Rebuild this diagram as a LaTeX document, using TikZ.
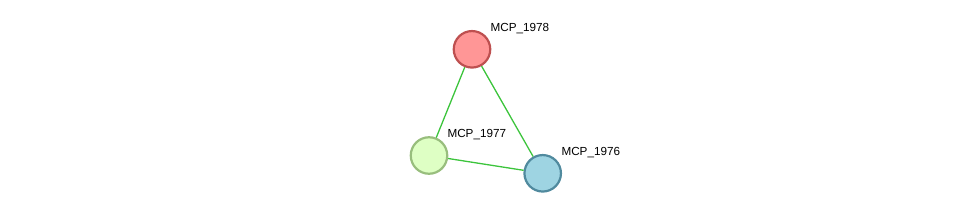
\documentclass[tikz,border=0pt]{standalone}
\usepackage{fontspec}
\setmainfont{Liberation Sans}
\begin{document}
\begin{tikzpicture}[x=1pt,y=-1pt,
  prot/.style={circle,minimum size=36.5pt,inner sep=0pt,line width=2.2pt},
  lbl/.style={anchor=west,inner sep=0pt,font=\fontsize{11.7}{13}\selectfont},
  edge/.style={draw={rgb,255:red,60;green,196;blue,60},line width=1.3pt}]
\definecolor{redfill}{RGB}{255,150,150}
\definecolor{redline}{RGB}{190,80,80}
\definecolor{greenfill}{RGB}{222,255,196}
\definecolor{greenline}{RGB}{152,190,125}
\definecolor{bluefill}{RGB}{158,212,226}
\definecolor{blueline}{RGB}{80,138,158}
\useasboundingbox (0,0) rectangle (976,219);
\node[prot,fill=redfill,draw=redline] (a) at (472,49.3) {};
\node[prot,fill=greenfill,draw=greenline] (b) at (429,155.5) {};
\node[prot,fill=bluefill,draw=blueline] (c) at (542.7,173.3) {};
\draw[edge] (a) -- (b);
\draw[edge] (a) -- (c);
\draw[edge] (b) -- (c);
\node[lbl] (la) at (490.5,29) {MCP\_1978};
\node[lbl] (lb) at (447.3,134.7) {MCP\_1977};
\node[lbl] (lc) at (561.3,152.4) {MCP\_1976};
\end{tikzpicture}
\end{document}
